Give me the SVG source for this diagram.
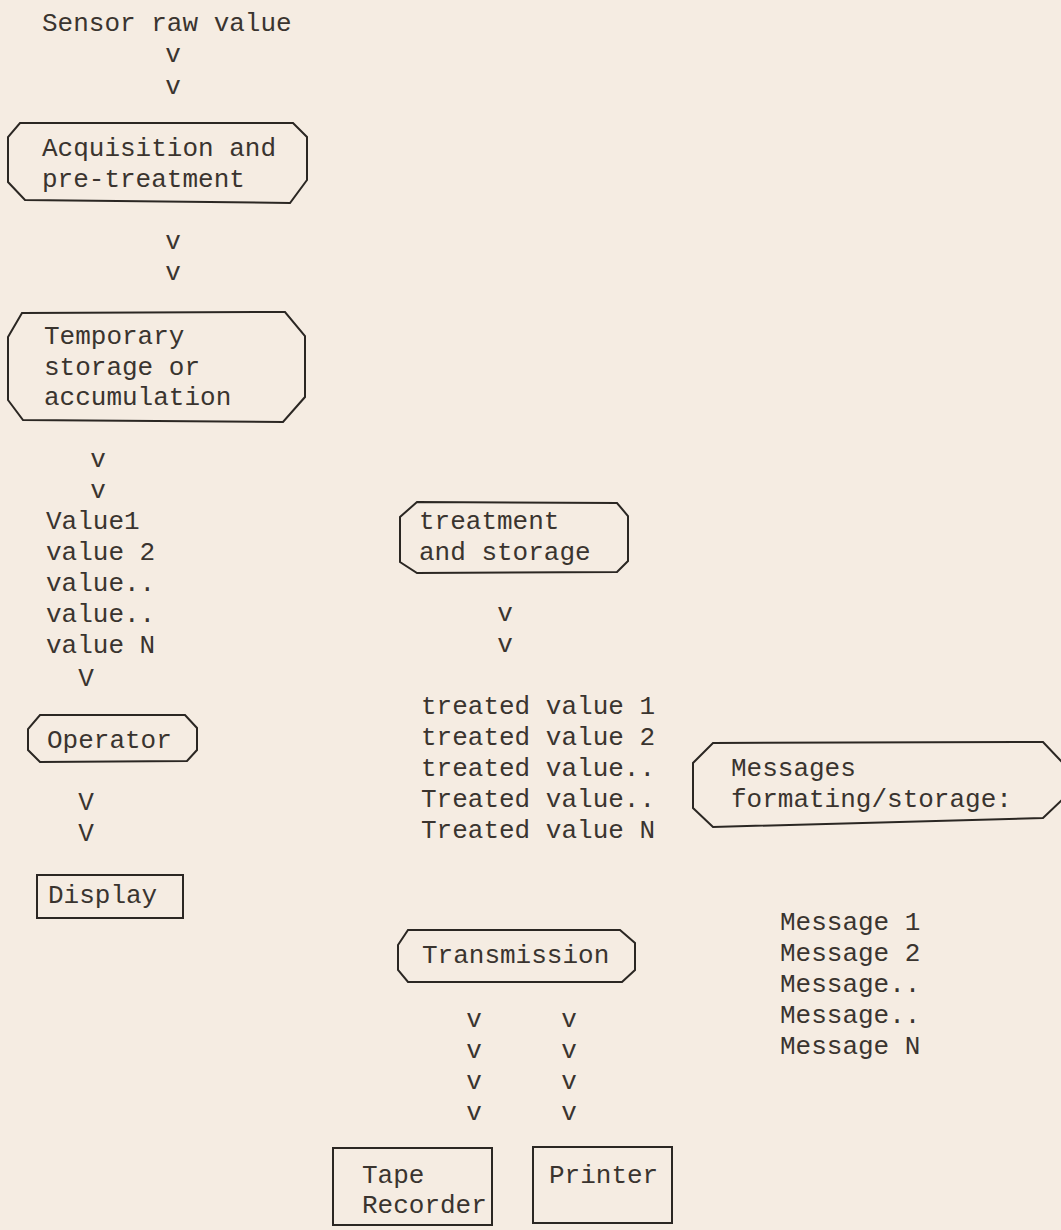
<svg xmlns="http://www.w3.org/2000/svg" width="1061" height="1230" viewBox="0 0 1061 1230">
<style>
text{font-family:"Liberation Mono","Courier New",monospace;font-size:26px;fill:#3a342f}
.c{text-anchor:middle}
.box{fill:none;stroke:#2b2723;stroke-width:2}
</style>
<rect x="0" y="0" width="1061" height="1230" fill="#f5ece2"/>
<g id="sensor"><text x="42" y="31">Sensor raw value</text></g>
<g id="acq">
<path class="box" d="M20,123 L293,123 L307,137 L307,180 L290,203 L25,200 L8,182 L8,137 Z"/>
<text x="42" y="156">Acquisition and</text>
<text x="42" y="187">pre-treatment</text>
</g>
<g id="temp">
<path class="box" d="M22,313 L285,312 L305,336 L305,397 L283,422 L23,420 L8,400 L8,337 Z"/>
<text x="44" y="344">Temporary</text>
<text x="44" y="375">storage or</text>
<text x="44" y="405">accumulation</text>
</g>
<g id="values">
<text x="46" y="529">Value1</text>
<text x="46" y="560">value 2</text>
<text x="46" y="591">value..</text>
<text x="46" y="622">value..</text>
<text x="46" y="653">value N</text>
</g>
<g id="operator">
<path class="box" d="M40,715 L185,715 L197,728 L197,750 L187,761 L40,762 L28,750 L28,729 Z"/>
<text x="47" y="748">Operator</text>
</g>
<g id="display">
<rect class="box" x="37" y="875" width="146" height="43"/>
<text x="48" y="903">Display</text>
</g>
<g id="treatment">
<path class="box" d="M417,502 L617,503 L628,516 L628,561 L617,572 L417,573 L400,562 L400,517 Z"/>
<text x="419" y="529">treatment</text>
<text x="419" y="560">and storage</text>
</g>
<g id="treated">
<text x="421" y="714">treated value 1</text>
<text x="421" y="745">treated value 2</text>
<text x="421" y="776">treated value..</text>
<text x="421" y="807">Treated value..</text>
<text x="421" y="838">Treated value N</text>
</g>
<g id="messagesbox">
<path class="box" d="M713,743 L1043,742 L1062,762 L1062,800 L1043,818 L713,827 L693,808 L693,763 Z"/>
<text x="731" y="776">Messages</text>
<text x="731" y="807">formating/storage:</text>
</g>
<g id="messages">
<text x="780" y="930">Message 1</text>
<text x="780" y="961">Message 2</text>
<text x="780" y="992">Message..</text>
<text x="780" y="1023">Message..</text>
<text x="780" y="1054">Message N</text>
</g>
<g id="transmission">
<path class="box" d="M408,930 L620,930 L635,943 L635,970 L622,982 L408,982 L398,970 L398,945 Z"/>
<text x="422" y="963">Transmission</text>
</g>
<g id="tape">
<rect class="box" x="333" y="1148" width="159" height="77"/>
<text x="362" y="1183">Tape</text>
<text x="362" y="1213">Recorder</text>
</g>
<g id="printer">
<rect class="box" x="533" y="1147" width="139" height="76"/>
<text x="549" y="1183">Printer</text>
</g>
<g id="connectors">
<text class="c" x="173" y="62">v</text>
<text class="c" x="173" y="94">v</text>
<text class="c" x="173" y="249">v</text>
<text class="c" x="173" y="280">v</text>
<text class="c" x="98" y="467">v</text>
<text class="c" x="98" y="498">v</text>
<text class="c" x="86" y="686">V</text>
<text class="c" x="86" y="810">V</text>
<text class="c" x="86" y="841">V</text>
<text class="c" x="505" y="621">v</text>
<text class="c" x="505" y="652">v</text>
<text class="c" x="474" y="1027">v</text>
<text class="c" x="474" y="1058">v</text>
<text class="c" x="474" y="1089">v</text>
<text class="c" x="474" y="1120">v</text>
<text class="c" x="569" y="1027">v</text>
<text class="c" x="569" y="1058">v</text>
<text class="c" x="569" y="1089">v</text>
<text class="c" x="569" y="1120">v</text>
</g>
</svg>
